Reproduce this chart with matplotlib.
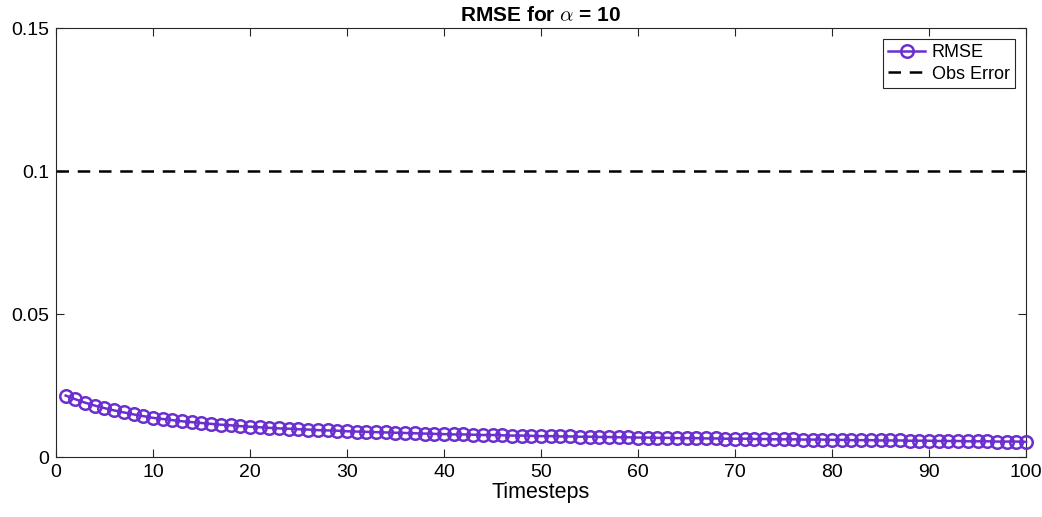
import matplotlib
matplotlib.use("Agg")
import matplotlib.pyplot as plt

plt.rcParams['font.family'] = ['Liberation Sans', 'DejaVu Sans']
plt.rcParams['mathtext.fontset'] = 'cm'

# data
timesteps = list(range(1, 101))
rmse = [
    0.0215, 0.0202, 0.0190, 0.0180, 0.0171, 0.0163, 0.0156, 0.0149, 0.0143, 0.0137,
    0.0133, 0.0129, 0.0125, 0.0122, 0.0119, 0.0116, 0.0113, 0.0111, 0.0108, 0.0106,
    0.0104, 0.0102, 0.0100, 0.0099, 0.0097, 0.0096, 0.0094, 0.0093, 0.0092, 0.0090,
    0.0089, 0.0088, 0.0087, 0.0086, 0.0085, 0.0084, 0.0083, 0.0082, 0.0081, 0.0080,
    0.0079, 0.0079, 0.0078, 0.0077, 0.0077, 0.0076, 0.0075, 0.0075, 0.0074, 0.0073,
    0.0073, 0.0072, 0.0072, 0.0071, 0.0071, 0.0070, 0.0070, 0.0069, 0.0069, 0.0068,
    0.0068, 0.0067, 0.0067, 0.0066, 0.0066, 0.0066, 0.0065, 0.0065, 0.0064, 0.0064,
    0.0064, 0.0063, 0.0063, 0.0062, 0.0062, 0.0062, 0.0061, 0.0061, 0.0061, 0.0060,
    0.0060, 0.0059, 0.0059, 0.0059, 0.0058, 0.0058, 0.0058, 0.0057, 0.0057, 0.0057,
    0.0056, 0.0056, 0.0056, 0.0055, 0.0055, 0.0055, 0.0054, 0.0054, 0.0054, 0.0053,
]
obs_error = 0.1
x_ticks = [0, 10, 20, 30, 40, 50, 60, 70, 80, 90, 100]
y_ticks = [0, 0.05, 0.1, 0.15]
y_tick_labels = ['0', '0.05', '0.1', '0.15']

purple = '#6B2FCF'
axis_grey = '#262626'

fig = plt.figure(figsize=(10.42, 5.17), dpi=100)
ax = fig.add_axes([0.0537, 0.116, 0.931, 0.8298])

ax.plot(timesteps, rmse, '-o', color=purple, lw=1.8, ms=9, clip_on=False,
        markerfacecolor='none', markeredgewidth=1.8, label='RMSE', zorder=3)
ax.axhline(obs_error, color='black', ls='--', lw=1.8, dashes=(5, 3.5), label='Obs Error')

ax.set_xlim(0, 100)
ax.set_ylim(0, 0.15)
ax.set_xticks(x_ticks)
ax.set_yticks(y_ticks)
ax.set_yticklabels(y_tick_labels)
ax.tick_params(direction='in', top=True, right=True, length=6, width=0.8,
               labelsize=14, colors=axis_grey, labelcolor='black', pad=5)
for s in ax.spines.values():
    s.set_color(axis_grey)
    s.set_linewidth(0.8)

ax.set_xlabel('Timesteps', fontsize=15.5, labelpad=1)
ax.set_title(r'RMSE for $\alpha$ = 10', fontsize=15, fontweight='bold', pad=5)

leg = ax.legend(loc='upper right', fontsize=13, fancybox=False, framealpha=1,
                edgecolor=axis_grey, borderaxespad=0.6, handlelength=2.0,
                borderpad=0.3, labelspacing=0.25, handletextpad=0.4)
leg.get_frame().set_linewidth(0.8)

fig.savefig('out.png', dpi=100)
